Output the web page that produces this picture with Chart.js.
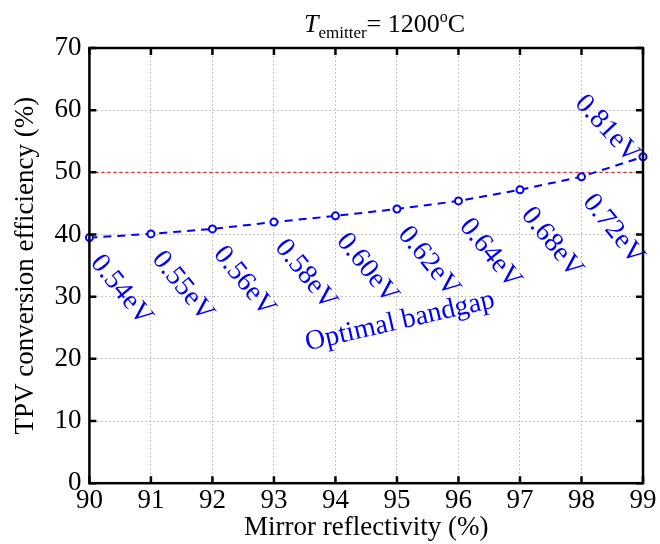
<!DOCTYPE html>
<html>
<head>
<meta charset="utf-8">
<script src="https://cdn.jsdelivr.net/npm/chart.js@4"></script>
<style>
  body { margin: 0; background: #fff; }
</style>
</head>
<body>
<canvas id="tpvChart" width="660" height="544"></canvas>
<script>
// data
var reflectivity = [90, 91, 92, 93, 94, 95, 96, 97, 98, 99];
var efficiency = [39.5, 40.1, 40.9, 42.0, 43.0, 44.1, 45.4, 47.2, 49.3, 52.5];
var bandgapLabels = ['0.54eV', '0.55eV', '0.56eV', '0.58eV', '0.60eV', '0.62eV', '0.64eV', '0.68eV', '0.72eV', '0.81eV'];
var refLine = [50, 50];
var refLineX = [90, 99];

var serif = '"Liberation Serif", "DejaVu Serif", serif';
var blue = '#0000ff';

// inward ticks + black box, like the matlab figure
var boxPlugin = {
    id: 'boxPlugin',
    afterDraw: function (chart) {
        var c = chart.ctx, a = chart.chartArea;
        var xs = chart.scales.x, ys = chart.scales.y;
        c.save();
        c.strokeStyle = '#000';
        c.lineWidth = 2.5;
        c.strokeRect(a.left, a.top, a.right - a.left, a.bottom - a.top);
        c.beginPath();
        xs.ticks.forEach(function (t) {
            var px = xs.getPixelForValue(t.value);
            c.moveTo(px, a.bottom); c.lineTo(px, a.bottom - 7);
            c.moveTo(px, a.top); c.lineTo(px, a.top + 7);
        });
        ys.ticks.forEach(function (t) {
            var py = ys.getPixelForValue(t.value);
            c.moveTo(a.left, py); c.lineTo(a.left + 7, py);
            c.moveTo(a.right, py); c.lineTo(a.right - 7, py);
        });
        c.stroke();
        c.restore();
    }
};

// rotated bandgap labels next to the points, and the title
var labelPlugin = {
    id: 'labelPlugin',
    afterDatasetsDraw: function (chart) {
        var c = chart.ctx;
        var pts = chart.getDatasetMeta(0).data;
        var xs = chart.scales.x, ys = chart.scales.y;
        c.save();
        c.fillStyle = blue;
        c.font = '28px ' + serif;
        pts.forEach(function (p, i) {
            c.save();
            if (i == pts.length - 1) {
                c.translate(p.x - 8, p.y + 2);
                c.rotate(47 * Math.PI / 180);
                c.textAlign = 'right';
                c.textBaseline = 'middle';
            } else {
                c.translate(p.x + 17, p.y + 12);
                c.rotate(51 * Math.PI / 180);
                c.textAlign = 'left';
                c.textBaseline = 'top';
            }
            c.fillText(bandgapLabels[i], 0, 0);
            c.restore();
        });

        // "Optimal bandgap"
        c.save();
        c.translate(xs.getPixelForValue(95.05), ys.getPixelForValue(26));
        c.rotate(-13 * Math.PI / 180);
        c.textAlign = 'center';
        c.textBaseline = 'middle';
        c.fillText('Optimal bandgap', 0, 0);
        c.restore();

        // title: T_emitter = 1200 oC
        c.fillStyle = '#000';
        c.textBaseline = 'alphabetic';
        c.textAlign = 'left';
        var x = 304, y = 32;
        c.font = 'italic 26px ' + serif;
        c.fillText('T', x, y);
        x += c.measureText('T').width;
        c.font = '17px ' + serif;
        c.fillText('emitter', x, y + 6);
        x += c.measureText('emitter').width;
        c.font = '26px ' + serif;
        c.fillText('= 1200', x, y);
        x += c.measureText('= 1200').width;
        c.font = '16px ' + serif;
        c.fillText('o', x, y - 10);
        x += c.measureText('o').width;
        c.font = '26px ' + serif;
        c.fillText('C', x, y);
        c.restore();
    }
};

const ctx = document.getElementById('tpvChart');
const tpvChart = new Chart(ctx, {
    type: 'line',
    data: {
        datasets: [{
            data: reflectivity.map(function (r, i) { return { x: r, y: efficiency[i] }; }),
            borderColor: blue,
            borderWidth: 2,
            borderDash: [8, 6],
            pointRadius: 3.5,
            pointBorderWidth: 2,
            pointBackgroundColor: '#fff',
            pointBorderColor: blue,
            tension: 0,
            fill: false,
            clip: false
        }, {
            data: refLineX.map(function (r, i) { return { x: r, y: refLine[i] }; }),
            borderColor: '#e00000',
            borderWidth: 1,
            borderDash: [3, 3],
            pointRadius: 0,
            fill: false
        }]
    },
    options: {
        responsive: false,
        animation: false,
        layout: {
            padding: { top: 48, right: 17, left: 10, bottom: 0 }
        },
        plugins: {
            legend: { display: false },
            tooltip: { enabled: false }
        },
        scales: {
            x: {
                type: 'linear',
                min: 90,
                max: 99,
                ticks: {
                    stepSize: 1,
                    color: '#000',
                    padding: 2,
                    font: { family: serif, size: 27 }
                },
                grid: {
                    color: '#c8c8c8',
                    drawTicks: false
                },
                border: { display: false, dash: [2, 2] },
                title: {
                    display: true,
                    text: 'Mirror reflectivity (%)',
                    color: '#000',
                    padding: { top: -8, bottom: 0 },
                    font: { family: serif, size: 27 }
                }
            },
            y: {
                min: 0,
                max: 70,
                ticks: {
                    stepSize: 10,
                    color: '#000',
                    padding: 8,
                    font: { family: serif, size: 27 }
                },
                grid: {
                    color: '#c8c8c8',
                    drawTicks: false
                },
                border: { display: false, dash: [2, 2] },
                title: {
                    display: true,
                    text: 'TPV conversion efficiency (%)',
                    color: '#000',
                    padding: { top: 0, bottom: 4 },
                    font: { family: serif, size: 27 }
                }
            }
        }
    },
    plugins: [boxPlugin, labelPlugin]
});
</script>
</body>
</html>
